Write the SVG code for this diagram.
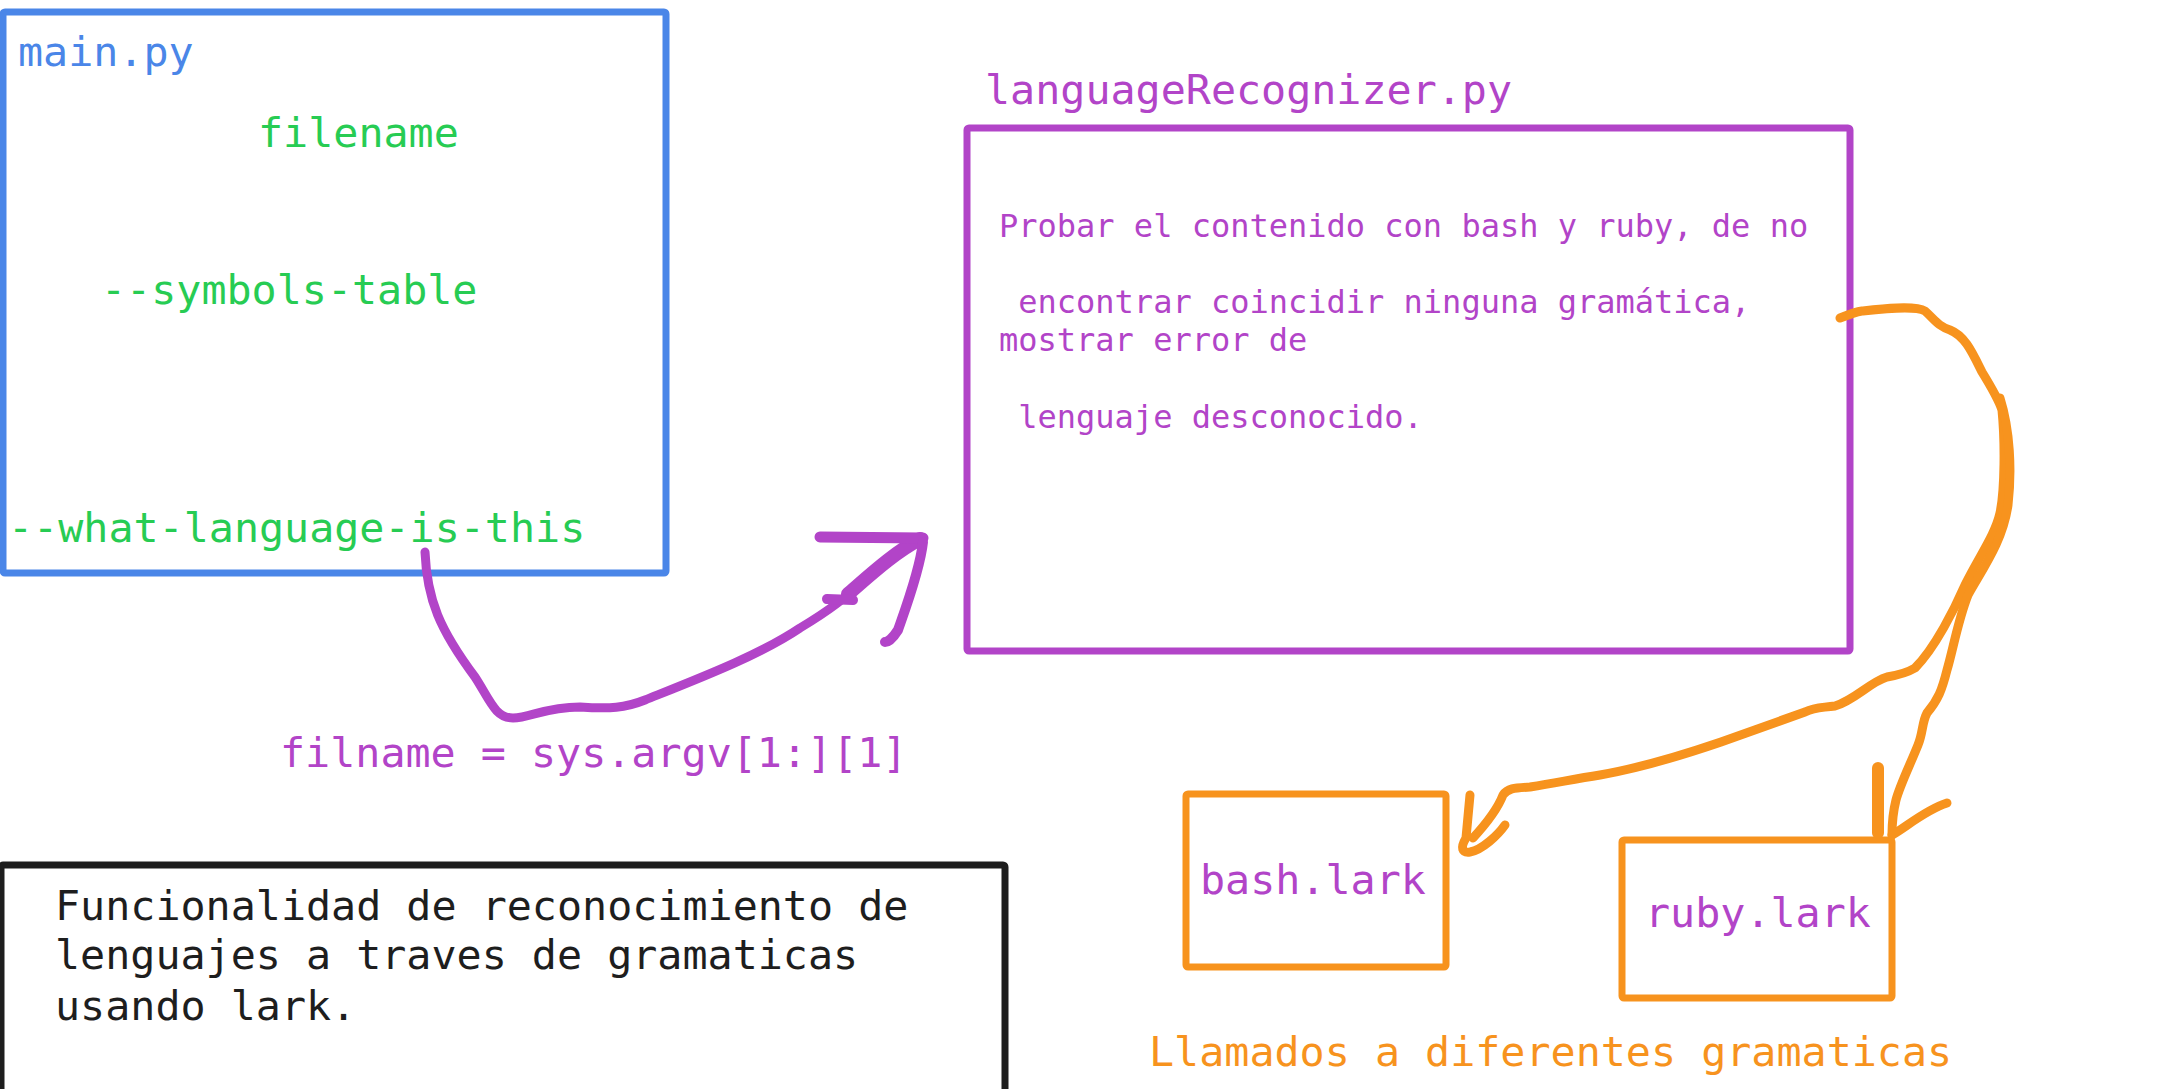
<svg xmlns="http://www.w3.org/2000/svg" width="2176" height="1089" viewBox="0 0 2176 1089">
<style>
  text { font-family: "DejaVu Sans Mono", "Liberation Mono", monospace; }
  .big { font-size: 41.7px; }
  .small { font-size: 32px; }
  .box { fill: #ffffff; stroke-width: 7; stroke-linejoin: round; }
  .blue { fill: #4a86e8; }
  .green { fill: #27cc53; }
  .purple { fill: #b244c8; }
  .orange { fill: #f7931e; }
  .black { fill: #1e1e1e; }
  .pl { fill: none; stroke: #b244c8; stroke-linecap: round; stroke-linejoin: round; }
  .ol { fill: none; stroke: #f7931e; stroke-linecap: round; stroke-linejoin: round; }
</style>
<rect width="2176" height="1089" fill="#ffffff"/>

<g id="main-py">
  <rect class="box" x="3" y="12" width="663" height="561" rx="2" stroke="#4a86e8"/>
  <text class="big blue" x="18" y="66">main.py</text>
  <text class="big green" x="258" y="147">filename</text>
  <text class="big green" x="101" y="304">--symbols-table</text>
  <text class="big green" x="8" y="542">--what-language-is-this</text>
</g>

<g id="language-recognizer">
  <text class="big purple" x="985" y="104">languageRecognizer.py</text>
  <rect class="box" x="967" y="128" width="883" height="523" rx="2" stroke="#b244c8"/>
  <text class="small purple" x="999" y="237">Probar el contenido con bash y ruby, de no</text>
  <text class="small purple" x="999" y="313" xml:space="preserve"> encontrar coincidir ninguna gramática,</text>
  <text class="small purple" x="999" y="351">mostrar error de</text>
  <text class="small purple" x="999" y="428" xml:space="preserve"> lenguaje desconocido.</text>
</g>

<g id="argv-label">
  <text class="big purple" x="280" y="767">filname = sys.argv[1:][1]</text>
</g>

<g id="description">
  <rect class="box" x="1" y="865" width="1004" height="260" rx="2" stroke="#1e1e1e"/>
  <text class="big black" x="55" y="920">Funcionalidad de reconocimiento de</text>
  <text class="big black" x="55" y="969">lenguajes a traves de gramaticas</text>
  <text class="big black" x="55" y="1020">usando lark.</text>
</g>

<g id="bash-lark">
  <rect class="box" x="1186" y="794" width="260" height="173" rx="2" stroke="#f7931e"/>
  <text class="big purple" x="1200" y="894">bash.lark</text>
</g>

<g id="ruby-lark">
  <rect class="box" x="1622" y="840" width="270" height="158" rx="2" stroke="#f7931e"/>
  <text class="big purple" x="1645" y="927">ruby.lark</text>
</g>

<g id="grammars-label">
  <text class="big orange" x="1149" y="1066">Llamados a diferentes gramaticas</text>
</g>

<g id="connectors">
  <!-- purple: main.py -> languageRecognizer.py -->
  <path class="pl" stroke-width="9" d="M425,552 C427,600 440,630 475,677 C490,700 495,718 513,718 C530,718 545,707 580,707 C610,709 625,708 645,700 C700,678 760,655 800,628 C830,610 845,598 865,580 C885,560 905,545 922,538"/>
  <path class="pl" stroke-width="14" d="M848,594 C870,575 895,552 920,539"/>
  <path class="pl" stroke-width="11" d="M820,537 L923,538"/>
  <path class="pl" stroke-width="10" d="M923,542 C920,570 905,610 898,630 C893,638 888,642 885,642"/>
  <path class="pl" stroke-width="10" d="M827,599 L853,600"/>

  <!-- orange: languageRecognizer.py -> bash.lark -->
  <path class="ol" stroke-width="9" d="M1840,318 C1850,314 1855,312 1862,311 C1880,309 1915,305 1925,311 C1935,320 1938,326 1950,330 C1965,336 1972,352 1982,372 C1990,385 1998,398 2002,410 C2005,440 2005,490 2000,513 C1995,535 1980,555 1965,585 C1955,608 1935,648 1915,668 C1905,674 1893,676 1887,677 C1870,682 1855,700 1835,706 C1820,708 1815,707 1805,712 L1721,742 C1680,756 1640,768 1600,775 C1575,779 1560,782 1530,787 C1515,788 1508,788 1503,795 C1498,808 1485,825 1473,838"/>
  <path class="ol" stroke-width="9" d="M1470,795 L1466,838 C1460,848 1462,853 1470,852 C1482,850 1498,835 1505,825"/>

  <!-- orange: languageRecognizer.py -> ruby.lark -->
  <path class="ol" stroke-width="9" d="M2000,398 C2010,430 2012,470 2008,505 C2003,540 1985,565 1968,595 C1958,620 1953,650 1947,670 C1942,690 1938,700 1927,713 C1922,722 1923,733 1918,745 C1910,765 1900,785 1896,800 C1893,812 1892,825 1892,835"/>
  <path class="ol" stroke-width="12" d="M1878,768 L1878,833"/>
  <path class="ol" stroke-width="9" d="M1892,835 C1905,828 1925,810 1947,803"/>
</g>
</svg>
